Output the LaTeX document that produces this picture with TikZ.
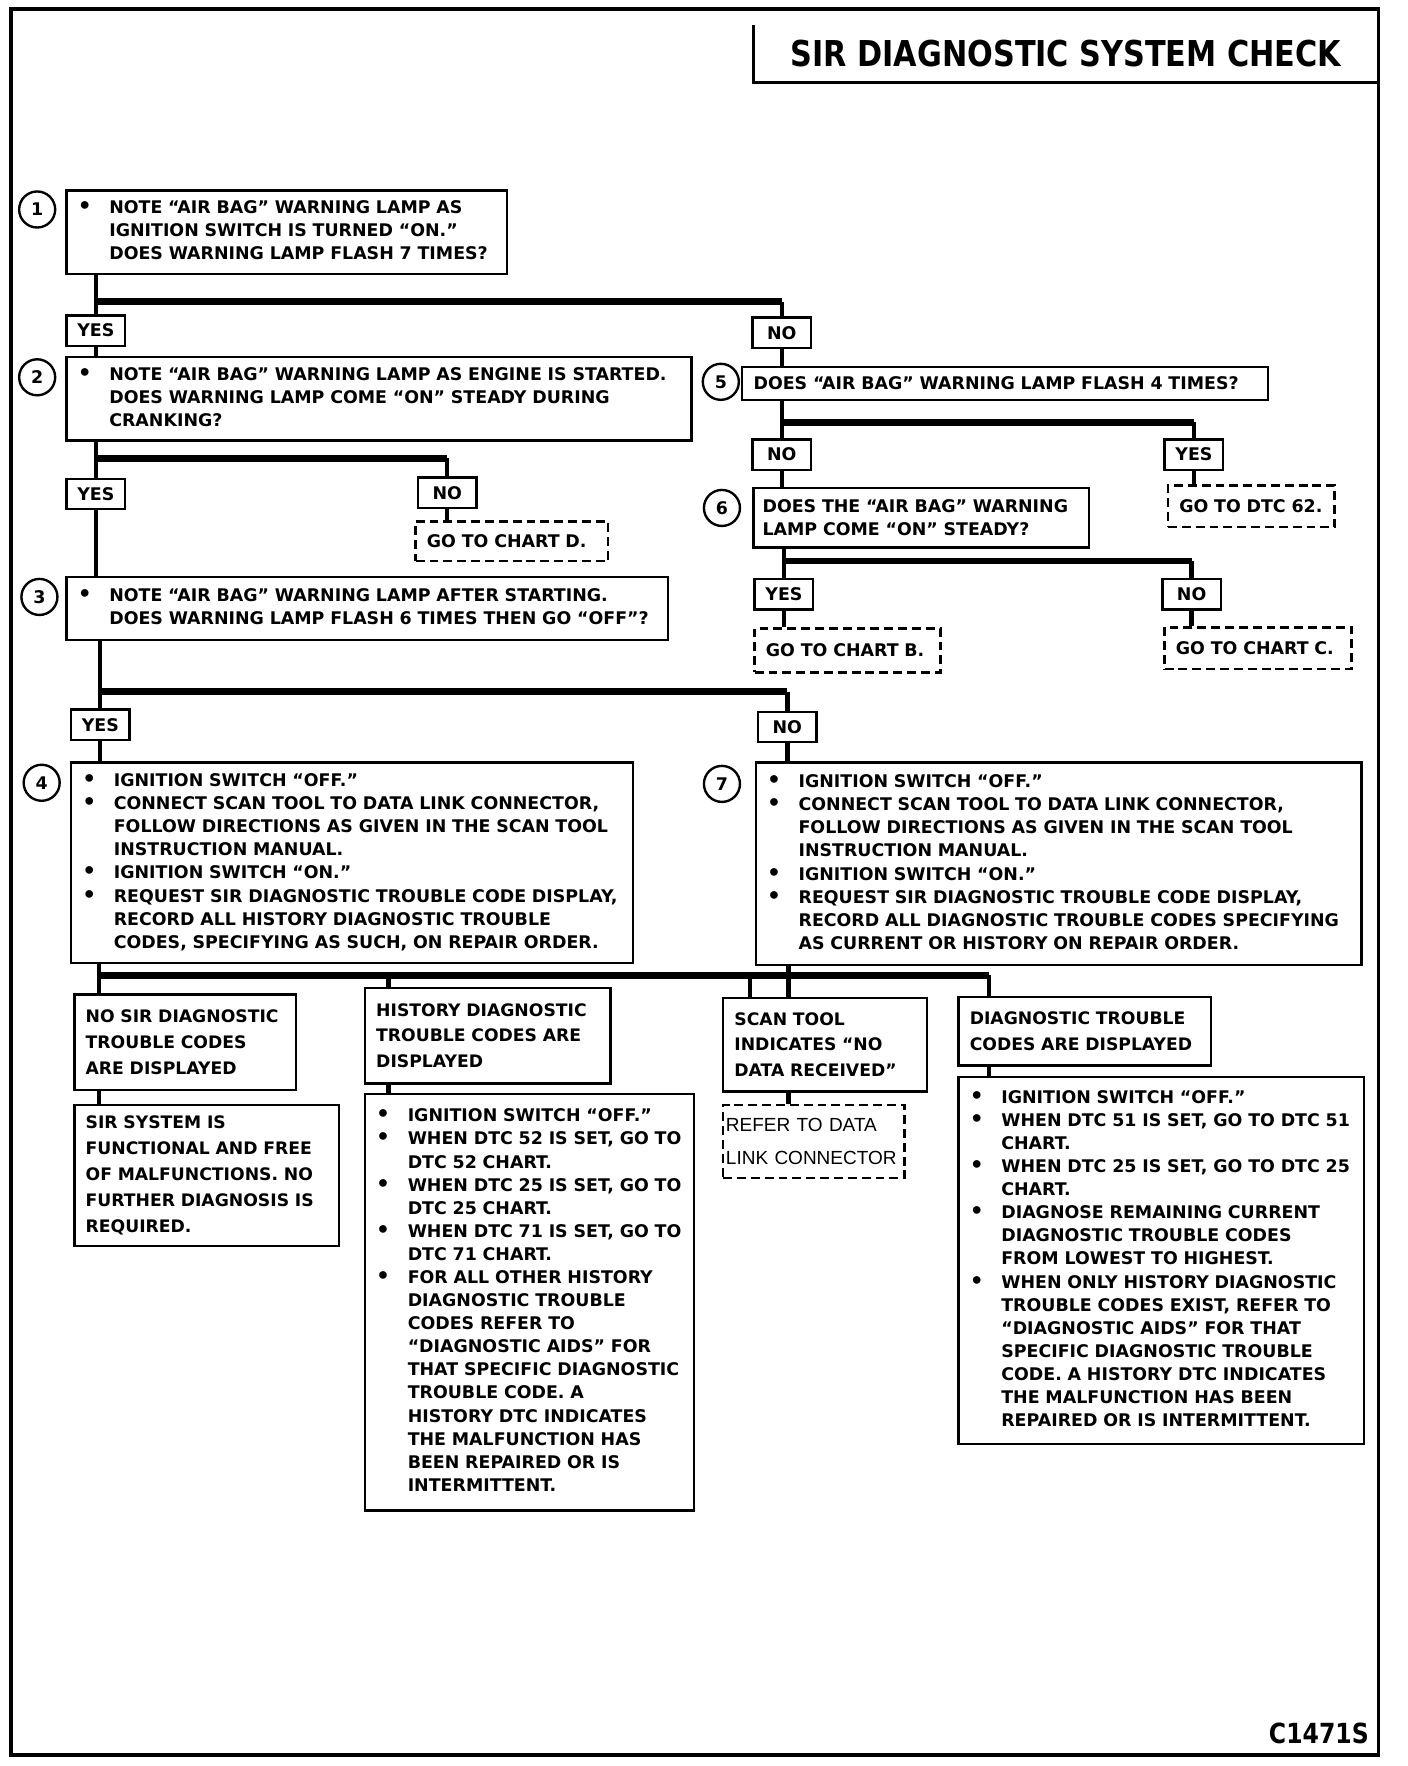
\documentclass[tikz,border=0pt]{standalone}
\usepackage{fontspec}
\setmainfont{DejaVu Sans}
\newfontfamily\titlefont{DejaVu Sans}[FakeStretch=0.85]
\newfontfamily\helvfont{Liberation Sans}
\usepackage{tikz}
\usetikzlibrary{positioning,calc}
\newcommand{\bul}{{\fontsize{11}{11}\selectfont\textbullet}}

\begin{document}
\begin{tikzpicture}[x=0.02cm, y=-0.02cm, thick,
        every node/.style={font=\bfseries\fontsize{8.8}{11.67}\selectfont},
        box/.style={draw, line width=1.2pt, fill=white, anchor=north west, inner xsep=0.2cm, inner ysep=0pt, align=left},
        res/.style={box, font=\bfseries\fontsize{8.7}{13.1}\selectfont},
        goto/.style={box, dash pattern=on 4.5pt off 2.5pt},
        ans/.style={draw, line width=1.2pt, fill=white, anchor=north west, minimum width=1.04cm, minimum height=0.54cm, inner sep=0pt},
        num/.style={draw, circle, line width=1.2pt, minimum size=0.64cm, inner sep=0pt},
        flow/.style={line width=2.2pt},
        bar/.style={line width=3.4pt}]
        \useasboundingbox (0,0) rectangle (1250,1568);
        \draw[line width=1.8pt] (10,8) rectangle (1224,1558);

        \node (title) [anchor=north east, minimum width=11.08cm, minimum height=1cm, font=\titlefont\bfseries\fontsize{18}{20}\selectfont] at (1224,22) {SIR DIAGNOSTIC SYSTEM CHECK};
        \draw[line width=1.5pt] (title.north west) |- (title.south east);

        % left column of questions
        \node[num] (s1) at (33,186) {1};
        \node[box, text width=7.42cm, minimum height=1.48cm] (q1) at (58,168) {\begin{tabular}{@{}p{0.56cm}@{}l@{}}
                \bul & NOTE ``AIR BAG'' WARNING LAMP AS\\
                & IGNITION SWITCH IS TURNED ``ON.''\\
                & DOES WARNING LAMP FLASH 7 TIMES?
            \end{tabular}};
        \node[ans] (y1) at (58,279) {YES};
        \node[ans] (n1) at (667,281) {NO};

        \node[num] (s2) at (33,335) {2};
        \node[box, text width=10.70cm, minimum height=1.48cm] (q2) at (58,316) {\begin{tabular}{@{}p{0.56cm}@{}l@{}}
                \bul & NOTE ``AIR BAG'' WARNING LAMP AS ENGINE IS STARTED.\\
                & DOES WARNING LAMP COME ``ON'' STEADY DURING\\
                & CRANKING?
            \end{tabular}};
        \node[ans] (y2) at (58,424) {YES};
        \node[ans] (n2) at (370,423) {NO};
        \node[goto, text width=3.02cm, minimum height=0.70cm] (chD) at (368,462) {GO TO CHART D.};

        \node[num] (s3) at (35,530) {3};
        \node[box, text width=10.28cm, minimum height=1.12cm] (q3) at (58,511) {\begin{tabular}{@{}p{0.56cm}@{}l@{}}
                \bul & NOTE ``AIR BAG'' WARNING LAMP AFTER STARTING.\\
                & DOES WARNING LAMP FLASH 6 TIMES THEN GO ``OFF''?
            \end{tabular}};
        \node[ans] (y3) at (62,629) {YES};
        \node[ans] (n3) at (672,631) {NO};

        \node[num] (s4) at (37,695) {4};
        \node[box, text width=9.58cm, minimum height=3.56cm] (q4) at (62,676) {\begin{tabular}{@{}p{0.56cm}@{}l@{}}
                \bul & IGNITION SWITCH ``OFF.''\\
                \bul & CONNECT SCAN TOOL TO DATA LINK CONNECTOR,\\
                & FOLLOW DIRECTIONS AS GIVEN IN THE SCAN TOOL\\
                & INSTRUCTION MANUAL.\\
                \bul & IGNITION SWITCH ``ON.''\\
                \bul & REQUEST SIR DIAGNOSTIC TROUBLE CODE DISPLAY,\\
                & RECORD ALL HISTORY DIAGNOSTIC TROUBLE\\
                & CODES, SPECIFYING AS SUCH, ON REPAIR ORDER.
            \end{tabular}};

        % right column of questions
        \node[num] (s5) at (640,339) {5};
        \node[box, text width=8.94cm, minimum height=0.58cm] (q5) at (658,325) {DOES ``AIR BAG'' WARNING LAMP FLASH 4 TIMES?};
        \node[ans] (n5) at (667,389) {NO};
        \node[ans] (y5) at (1033,389) {YES};
        \node[goto, text width=2.56cm, minimum height=0.74cm] (dtc62) at (1036,430) {GO TO DTC 62.};

        \node[num] (s6) at (641,451) {6};
        \node[box, text width=5.64cm, minimum height=1.06cm, inner xsep=0.16cm] (q6) at (668,432) {DOES THE ``AIR BAG'' WARNING\\LAMP COME ``ON'' STEADY?};
        \node[ans] (y6) at (669,513) {YES};
        \node[ans] (n6) at (1031,513) {NO};
        \node[goto, text width=2.90cm, minimum height=0.78cm] (chB) at (669,557) {GO TO CHART B.};
        \node[goto, text width=2.92cm, minimum height=0.74cm] (chC) at (1033,556) {GO TO CHART C.};

        \node[num] (s7) at (641,696) {7};
        \node[box, text width=10.36cm, minimum height=3.60cm] (q7) at (670,676) {\begin{tabular}{@{}p{0.56cm}@{}l@{}}
                \bul & IGNITION SWITCH ``OFF.''\\
                \bul & CONNECT SCAN TOOL TO DATA LINK CONNECTOR,\\
                & FOLLOW DIRECTIONS AS GIVEN IN THE SCAN TOOL\\
                & INSTRUCTION MANUAL.\\
                \bul & IGNITION SWITCH ``ON.''\\
                \bul & REQUEST SIR DIAGNOSTIC TROUBLE CODE DISPLAY,\\
                & RECORD ALL DIAGNOSTIC TROUBLE CODES SPECIFYING\\
                & AS CURRENT OR HISTORY ON REPAIR ORDER.
            \end{tabular}};

        % results
        \node[res, text width=3.54cm, minimum height=1.70cm] (r1) at (65,882) {NO SIR DIAGNOSTIC\\TROUBLE CODES\\ARE DISPLAYED};
        \node[res, text width=4.30cm, minimum height=2.50cm] (r1a) at (65,980) {SIR SYSTEM IS\\FUNCTIONAL AND FREE\\OF MALFUNCTIONS. NO\\FURTHER DIAGNOSIS IS\\REQUIRED.};
        \node[res, text width=3.96cm, minimum height=1.70cm] (r2) at (323,876) {HISTORY DIAGNOSTIC\\TROUBLE CODES ARE\\DISPLAYED};
        \node[box, text width=5.44cm, minimum height=7.40cm] (r2a) at (323,970) {\begin{tabular}{@{}p{0.56cm}@{}l@{}}
                \bul & IGNITION SWITCH ``OFF.''\\
                \bul & WHEN DTC 52 IS SET, GO TO\\
                & DTC 52 CHART.\\
                \bul & WHEN DTC 25 IS SET, GO TO\\
                & DTC 25 CHART.\\
                \bul & WHEN DTC 71 IS SET, GO TO\\
                & DTC 71 CHART.\\
                \bul & FOR ALL OTHER HISTORY\\
                & DIAGNOSTIC TROUBLE\\
                & CODES REFER TO\\
                & ``DIAGNOSTIC AIDS'' FOR\\
                & THAT SPECIFIC DIAGNOSTIC\\
                & TROUBLE CODE. A\\
                & HISTORY DTC INDICATES\\
                & THE MALFUNCTION HAS\\
                & BEEN REPAIRED OR IS\\
                & INTERMITTENT.
            \end{tabular}};
        \node[res, text width=3.22cm, minimum height=1.66cm] (r3) at (641,885) {SCAN TOOL\\INDICATES ``NO\\DATA RECEIVED''};
        \node[goto, text width=3.12cm, minimum height=1.30cm, inner xsep=0.05cm, font=\helvfont\fontsize{9.6}{17}\selectfont] (r3a) at (641,980) {REFER TO DATA\\LINK CONNECTOR};
        \node[res, text width=4.08cm, minimum height=1.22cm] (r4) at (850,884) {DIAGNOSTIC TROUBLE\\CODES ARE DISPLAYED};
        \node[box, text width=6.80cm, minimum height=6.52cm] (r4a) at (850,955) {\begin{tabular}{@{}p{0.56cm}@{}l@{}}
                \bul & IGNITION SWITCH ``OFF.''\\
                \bul & WHEN DTC 51 IS SET, GO TO DTC 51\\
                & CHART.\\
                \bul & WHEN DTC 25 IS SET, GO TO DTC 25\\
                & CHART.\\
                \bul & DIAGNOSE REMAINING CURRENT\\
                & DIAGNOSTIC TROUBLE CODES\\
                & FROM LOWEST TO HIGHEST.\\
                \bul & WHEN ONLY HISTORY DIAGNOSTIC\\
                & TROUBLE CODES EXIST, REFER TO\\
                & ``DIAGNOSTIC AIDS'' FOR THAT\\
                & SPECIFIC DIAGNOSTIC TROUBLE\\
                & CODE. A HISTORY DTC INDICATES\\
                & THE MALFUNCTION HAS BEEN\\
                & REPAIRED OR IS INTERMITTENT.
            \end{tabular}};

        \node (code) [anchor=south east, inner sep=0pt, font=\titlefont\bfseries\fontsize{14}{16}\selectfont] at (1216,1549) {C1471S};

        % branch lines
        \coordinate (b1) at (0,268);
        \coordinate (b2) at (0,407);
        \coordinate (b3) at (0,614);
        \coordinate (b5) at (0,375);
        \coordinate (b6) at (0,498);

        \draw[flow] (q1.south -| y1) -- (y1.north);
        \draw[bar] (y1 |- b1) -- (n1 |- b1);
        \draw[flow] (n1 |- b1) -- (n1.north);
        \draw[flow] (y1.south) -- (q2.north -| y1);
        \draw[flow] (n1.south) -- (q5.north -| n1);

        \draw[flow] (q2.south -| y2) -- (y2.north);
        \draw[bar] (y2 |- b2) -- (n2 |- b2);
        \draw[flow] (n2 |- b2) -- (n2.north);
        \draw[flow] (n2.south) -- (chD.north -| n2);
        \draw[flow] (y2.south) -- (q3.north -| y2);

        \draw[flow] (q3.south -| y3) -- (y3.north);
        \draw[bar] (y3 |- b3) -- (n3 |- b3);
        \draw[flow] (n3 |- b3) -- (n3.north);
        \draw[flow] (y3.south) -- (q4.north -| y3);
        \draw[flow] (n3.south) -- (q7.north -| n3);

        \draw[flow] (q5.south -| n5) -- (n5.north);
        \draw[bar] (n5 |- b5) -- (y5 |- b5);
        \draw[flow] (y5 |- b5) -- (y5.north);
        \draw[flow] (y5.south) -- (dtc62.north -| y5);
        \draw[flow] (n5.south) -- (q6.north -| n5);

        \draw[flow] (q6.south -| y6) -- (y6.north);
        \draw[bar] (y6 |- b6) -- (n6 |- b6);
        \draw[flow] (n6 |- b6) -- (n6.north);
        \draw[flow] (y6.south) -- (chB.north -| y6);
        \draw[flow] (n6.south) -- (chC.north -| n6);

        \coordinate (d1) at (88,866);
        \coordinate (d2) at (345,866);
        \coordinate (d3) at (666,866);
        \coordinate (d4) at (700,866);
        \coordinate (d5) at (878,866);
        \draw[bar] (d1) -- (d5);
        \draw[flow] (q4.south -| d1) -- (r1.north -| d1);
        \draw[flow] (d2) -- (r2.north -| d2);
        \draw[flow] (d3) -- (r3.north -| d3);
        \draw[flow] (q7.south -| d4) -- (r3.north -| d4);
        \draw[flow] (d5) -- (r4.north -| d5);
        \draw[flow] (r1.south -| d1) -- (r1a.north -| d1);
        \draw[flow] (r2.south -| d2) -- (r2a.north -| d2);
        \draw[flow] (r3.south -| d4) -- (r3a.north -| d4);
        \draw[flow] (r4.south -| d5) -- (r4a.north -| d5);
    \end{tikzpicture}
\end{document}
